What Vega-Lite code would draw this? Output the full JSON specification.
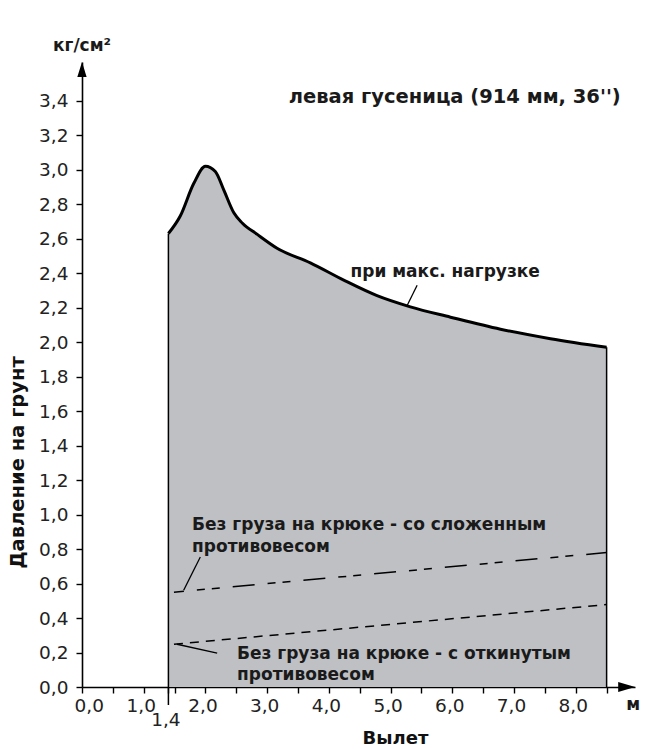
{
  "$schema": "https://vega.github.io/schema/vega-lite/v6.json",
  "width": 553,
  "height": 625,
  "autosize": {"type": "none"},
  "padding": {"left": 82, "top": 62, "right": 14, "bottom": 62},
  "background": "white",
  "config": {
    "view": {"stroke": null},
    "axis": {
      "grid": false,
      "domainColor": "black",
      "domainWidth": 1.6,
      "tickColor": "black",
      "tickWidth": 1.4,
      "tickSize": 6,
      "labelColor": "#222",
      "labelFont": "DejaVu Sans",
      "labelFontSize": 18.5,
      "titleFont": "DejaVu Sans",
      "titleFontWeight": "bold",
      "titleFontSize": 18,
      "titleColor": "#111"
    },
    "text": {"font": "DejaVu Sans", "fontWeight": "bold", "fontSize": 17, "color": "#1a1a1a"}
  },
  "datasets": {
    "curve": [
      {"x": 1.4, "y": 2.63},
      {"x": 1.59, "y": 2.73},
      {"x": 1.81, "y": 2.92},
      {"x": 2.0, "y": 3.02},
      {"x": 2.16, "y": 2.99},
      {"x": 2.3, "y": 2.88},
      {"x": 2.46, "y": 2.75},
      {"x": 2.6, "y": 2.69},
      {"x": 2.84, "y": 2.625},
      {"x": 3.16, "y": 2.545},
      {"x": 3.7, "y": 2.46},
      {"x": 4.24, "y": 2.36},
      {"x": 4.78, "y": 2.27},
      {"x": 5.32, "y": 2.205},
      {"x": 5.97, "y": 2.145},
      {"x": 6.78, "y": 2.075},
      {"x": 7.59, "y": 2.02},
      {"x": 8.5, "y": 1.97}
    ],
    "edges": [
      {"x": 1.4, "y": -0.105, "y2": 2.63},
      {"x": 8.5, "y": 0, "y2": 1.97}
    ],
    "folded": [
      {"x": 1.49, "y": 0.55},
      {"x": 8.5, "y": 0.78}
    ],
    "unfolded": [
      {"x": 1.49, "y": 0.248},
      {"x": 8.5, "y": 0.478}
    ],
    "leaders": [
      {"x": 5.27, "y": 2.214, "x2": 5.43, "y2": 2.33},
      {"x": 1.647, "y": 0.561, "x2": 1.917, "y2": 0.754},
      {"x": 1.54, "y": 0.248, "x2": 2.19, "y2": 0.197}
    ],
    "leftLabels": [
      {"x": 4.35, "y": 2.407, "text": "при макс. нагрузке"},
      {"x": 1.783, "y": 0.938, "text": "Без груза на крюке - со сложенным"},
      {"x": 1.783, "y": 0.812, "text": "противовесом"},
      {"x": 2.512, "y": 0.19, "text": "Без груза на крюке - с откинутым"},
      {"x": 2.512, "y": 0.068, "text": "противовесом"}
    ],
    "titleLabel": [
      {"x": 3.35, "y": 3.422, "text": "левая гусеница (914 мм, 36'')"}
    ],
    "centerLabels": [
      {"x": 0, "y": 3.716, "text": "кг/см²"},
      {"x": 8.93, "y": -0.106, "text": "м"}
    ],
    "arrowUp": [{"x": 0, "y": 3.582}],
    "arrowRight": [{"x": 8.825, "y": 0}]
  },
  "encoding": {
    "x": {
      "field": "x", "type": "quantitative",
      "scale": {"domain": [0, 8.96], "nice": false, "zero": false},
      "axis": {
        "values": [0, 0.5, 1, 1.4, 1.5, 2, 2.5, 3, 3.5, 4, 4.5, 5, 5.5, 6, 6.5, 7, 7.5, 8, 8.5],
        "labelExpr": "(datum.value == 1.4 || datum.value % 1 == 0) ? replace(format(datum.value, '.1f'), '.', ',') : ''",
        "labelOverlap": false,
        "labelPadding": {"condition": {"test": "datum.value == 1.4", "value": 17}, "value": 3},
        "labelOffset": {"condition": {"test": "datum.value == 0", "value": -8}, "value": -3},
        "title": "Вылет",
        "titleX": 313,
        "titleY": 51,
        "titleAlign": "center",
        "titleBaseline": "middle",
        "titleAnchor": null
      }
    },
    "y": {
      "field": "y", "type": "quantitative",
      "scale": {"domain": [0, 3.625], "nice": false},
      "axis": {
        "values": [0, 0.2, 0.4, 0.6, 0.8, 1, 1.2, 1.4, 1.6, 1.8, 2, 2.2, 2.4, 2.6, 2.8, 3, 3.2, 3.4],
        "labelExpr": "replace(format(datum.value, '.1f'), '.', ',')",
        "labelPadding": 8,
        "labelOverlap": false,
        "title": "Давление на грунт",
        "titleFontSize": 19.5,
        "titleX": -65,
        "titleY": 400,
        "titleAngle": -90,
        "titleAlign": "center",
        "titleBaseline": "middle",
        "titleAnchor": null
      }
    }
  },
  "layer": [
    {
      "data": {"name": "curve"},
      "mark": {"type": "area", "interpolate": "monotone", "color": "#bec0c4"}
    },
    {
      "data": {"name": "curve"},
      "mark": {"type": "line", "interpolate": "monotone", "color": "black", "strokeWidth": 3}
    },
    {
      "data": {"name": "edges"},
      "mark": {"type": "rule", "color": "black", "strokeWidth": 1.5},
      "encoding": {"y2": {"field": "y2"}}
    },
    {
      "data": {"name": "folded"},
      "mark": {"type": "line", "color": "black", "strokeWidth": 1.5, "strokeDash": [10, 13, 8, 7, 8, 13, 22, 13, 8, 7, 8, 13, 22, 13, 8, 7, 8, 13, 22, 13, 8, 7, 8, 13, 22, 13, 8, 7, 8, 13, 22, 13, 8, 7, 8, 13, 22, 13, 8, 7, 8, 13, 22]}
    },
    {
      "data": {"name": "unfolded"},
      "mark": {"type": "line", "color": "black", "strokeWidth": 1.5, "strokeDash": [9, 7]}
    },
    {
      "data": {"name": "leaders"},
      "mark": {"type": "rule", "color": "black", "strokeWidth": 1.3},
      "encoding": {"x2": {"field": "x2"}, "y2": {"field": "y2"}}
    },
    {
      "data": {"name": "arrowUp"},
      "mark": {"type": "point", "shape": "M0,-1L0.62,1L-0.62,1Z", "size": 225, "filled": true, "color": "black", "opacity": 1}
    },
    {
      "data": {"name": "arrowRight"},
      "mark": {"type": "point", "shape": "M1,0L-1,-0.6L-1,0.6Z", "size": 289, "filled": true, "color": "black", "opacity": 1}
    },
    {
      "data": {"name": "leftLabels"},
      "mark": {"type": "text", "baseline": "middle", "align": "left"},
      "encoding": {"text": {"field": "text"}}
    },
    {
      "data": {"name": "titleLabel"},
      "mark": {"type": "text", "baseline": "middle", "align": "left", "fontSize": 19.5},
      "encoding": {"text": {"field": "text"}}
    },
    {
      "data": {"name": "centerLabels"},
      "mark": {"type": "text", "baseline": "middle", "align": "center"},
      "encoding": {"text": {"field": "text"}}
    }
  ]
}
